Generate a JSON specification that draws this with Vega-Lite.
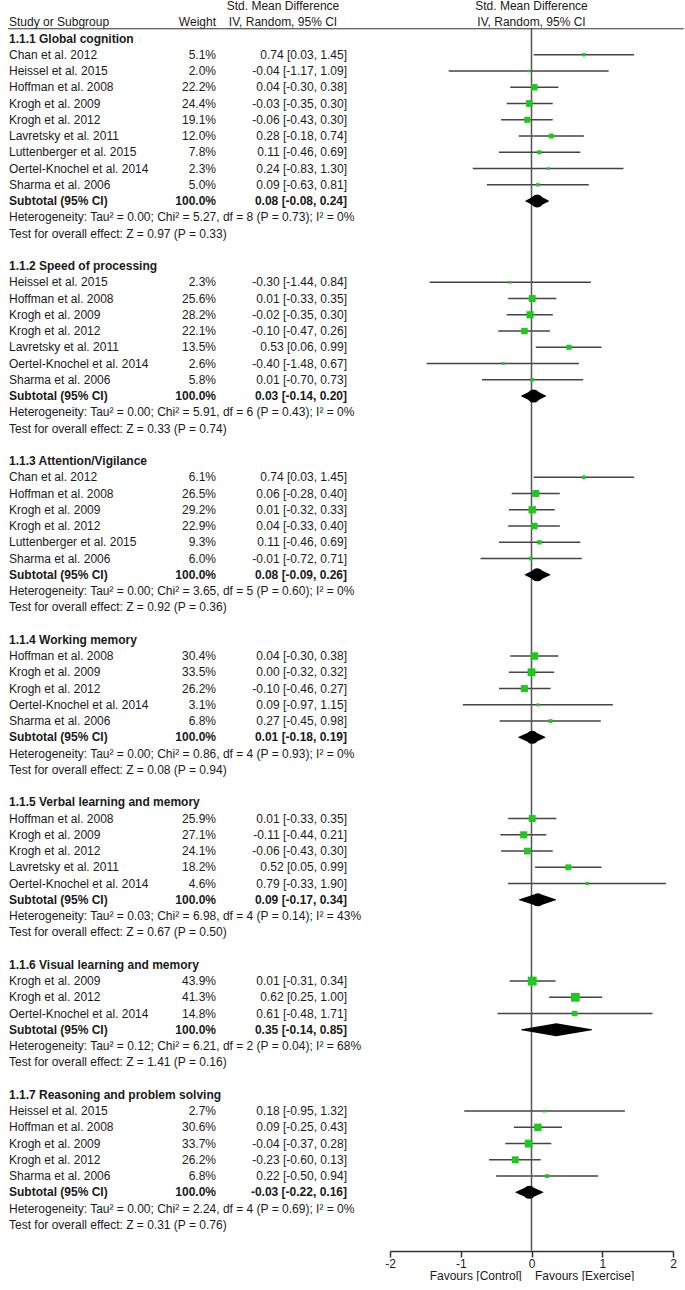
{
  "$schema": "https://vega.github.io/schema/vega-lite/v6.json",
  "padding": 0,
  "bounds": "flush",
  "spacing": 0,
  "config": {
    "view": {"stroke": null},
    "font": "Liberation Sans",
    "text": {"font": "Liberation Sans", "fontSize": 12, "color": "#1a1a1a", "baseline": "middle"}
  },
  "datasets": {
    "header": [
      {"row": -2, "col": "smd", "text": "Std. Mean Difference"},
      {"row": -1, "col": "study", "text": "Study or Subgroup"},
      {"row": -1, "col": "weight", "text": "Weight"},
      {"row": -1, "col": "smd", "text": "IV, Random, 95% CI"}
    ],
    "rows": [
      {"row": 0, "kind": "section", "label": "1.1.1 Global cognition"},
      {"row": 1, "kind": "study", "label": "Chan et al. 2012", "w": 0.051, "est": 0.74, "lo": 0.03, "hi": 1.45, "ci": "0.74 [0.03, 1.45]"},
      {"row": 2, "kind": "study", "label": "Heissel et al. 2015", "w": 0.020, "est": -0.04, "lo": -1.17, "hi": 1.09, "ci": "-0.04 [-1.17, 1.09]"},
      {"row": 3, "kind": "study", "label": "Hoffman et al. 2008", "w": 0.222, "est": 0.04, "lo": -0.30, "hi": 0.38, "ci": "0.04 [-0.30, 0.38]"},
      {"row": 4, "kind": "study", "label": "Krogh et al. 2009", "w": 0.244, "est": -0.03, "lo": -0.35, "hi": 0.30, "ci": "-0.03 [-0.35, 0.30]"},
      {"row": 5, "kind": "study", "label": "Krogh et al. 2012", "w": 0.191, "est": -0.06, "lo": -0.43, "hi": 0.30, "ci": "-0.06 [-0.43, 0.30]"},
      {"row": 6, "kind": "study", "label": "Lavretsky et al. 2011", "w": 0.120, "est": 0.28, "lo": -0.18, "hi": 0.74, "ci": "0.28 [-0.18, 0.74]"},
      {"row": 7, "kind": "study", "label": "Luttenberger et al. 2015", "w": 0.078, "est": 0.11, "lo": -0.46, "hi": 0.69, "ci": "0.11 [-0.46, 0.69]"},
      {"row": 8, "kind": "study", "label": "Oertel-Knochel et al. 2014", "w": 0.023, "est": 0.24, "lo": -0.83, "hi": 1.30, "ci": "0.24 [-0.83, 1.30]"},
      {"row": 9, "kind": "study", "label": "Sharma et al. 2006", "w": 0.050, "est": 0.09, "lo": -0.63, "hi": 0.81, "ci": "0.09 [-0.63, 0.81]"},
      {"row": 10, "kind": "subtotal", "label": "Subtotal (95% CI)", "w": 1.0, "est": 0.08, "lo": -0.08, "hi": 0.24, "ci": "0.08 [-0.08, 0.24]"},
      {"row": 11, "kind": "note", "label": "Heterogeneity: Tau² = 0.00; Chi² = 5.27, df = 8 (P = 0.73); I² = 0%"},
      {"row": 12, "kind": "note", "label": "Test for overall effect: Z = 0.97 (P = 0.33)"},

      {"row": 14, "kind": "section", "label": "1.1.2 Speed of processing"},
      {"row": 15, "kind": "study", "label": "Heissel et al. 2015", "w": 0.023, "est": -0.30, "lo": -1.44, "hi": 0.84, "ci": "-0.30 [-1.44, 0.84]"},
      {"row": 16, "kind": "study", "label": "Hoffman et al. 2008", "w": 0.256, "est": 0.01, "lo": -0.33, "hi": 0.35, "ci": "0.01 [-0.33, 0.35]"},
      {"row": 17, "kind": "study", "label": "Krogh et al. 2009", "w": 0.282, "est": -0.02, "lo": -0.35, "hi": 0.30, "ci": "-0.02 [-0.35, 0.30]"},
      {"row": 18, "kind": "study", "label": "Krogh et al. 2012", "w": 0.221, "est": -0.10, "lo": -0.47, "hi": 0.26, "ci": "-0.10 [-0.47, 0.26]"},
      {"row": 19, "kind": "study", "label": "Lavretsky et al. 2011", "w": 0.135, "est": 0.53, "lo": 0.06, "hi": 0.99, "ci": "0.53 [0.06, 0.99]"},
      {"row": 20, "kind": "study", "label": "Oertel-Knochel et al. 2014", "w": 0.026, "est": -0.40, "lo": -1.48, "hi": 0.67, "ci": "-0.40 [-1.48, 0.67]"},
      {"row": 21, "kind": "study", "label": "Sharma et al. 2006", "w": 0.058, "est": 0.01, "lo": -0.70, "hi": 0.73, "ci": "0.01 [-0.70, 0.73]"},
      {"row": 22, "kind": "subtotal", "label": "Subtotal (95% CI)", "w": 1.0, "est": 0.03, "lo": -0.14, "hi": 0.20, "ci": "0.03 [-0.14, 0.20]"},
      {"row": 23, "kind": "note", "label": "Heterogeneity: Tau² = 0.00; Chi² = 5.91, df = 6 (P = 0.43); I² = 0%"},
      {"row": 24, "kind": "note", "label": "Test for overall effect: Z = 0.33 (P = 0.74)"},

      {"row": 26, "kind": "section", "label": "1.1.3 Attention/Vigilance"},
      {"row": 27, "kind": "study", "label": "Chan et al. 2012", "w": 0.061, "est": 0.74, "lo": 0.03, "hi": 1.45, "ci": "0.74 [0.03, 1.45]"},
      {"row": 28, "kind": "study", "label": "Hoffman et al. 2008", "w": 0.265, "est": 0.06, "lo": -0.28, "hi": 0.40, "ci": "0.06 [-0.28, 0.40]"},
      {"row": 29, "kind": "study", "label": "Krogh et al. 2009", "w": 0.292, "est": 0.01, "lo": -0.32, "hi": 0.33, "ci": "0.01 [-0.32, 0.33]"},
      {"row": 30, "kind": "study", "label": "Krogh et al. 2012", "w": 0.229, "est": 0.04, "lo": -0.33, "hi": 0.40, "ci": "0.04 [-0.33, 0.40]"},
      {"row": 31, "kind": "study", "label": "Luttenberger et al. 2015", "w": 0.093, "est": 0.11, "lo": -0.46, "hi": 0.69, "ci": "0.11 [-0.46, 0.69]"},
      {"row": 32, "kind": "study", "label": "Sharma et al. 2006", "w": 0.060, "est": -0.01, "lo": -0.72, "hi": 0.71, "ci": "-0.01 [-0.72, 0.71]"},
      {"row": 33, "kind": "subtotal", "label": "Subtotal (95% CI)", "w": 1.0, "est": 0.08, "lo": -0.09, "hi": 0.26, "ci": "0.08 [-0.09, 0.26]"},
      {"row": 34, "kind": "note", "label": "Heterogeneity: Tau² = 0.00; Chi² = 3.65, df = 5 (P = 0.60); I² = 0%"},
      {"row": 35, "kind": "note", "label": "Test for overall effect: Z = 0.92 (P = 0.36)"},

      {"row": 37, "kind": "section", "label": "1.1.4 Working memory"},
      {"row": 38, "kind": "study", "label": "Hoffman et al. 2008", "w": 0.304, "est": 0.04, "lo": -0.30, "hi": 0.38, "ci": "0.04 [-0.30, 0.38]"},
      {"row": 39, "kind": "study", "label": "Krogh et al. 2009", "w": 0.335, "est": 0.00, "lo": -0.32, "hi": 0.32, "ci": "0.00 [-0.32, 0.32]"},
      {"row": 40, "kind": "study", "label": "Krogh et al. 2012", "w": 0.262, "est": -0.10, "lo": -0.46, "hi": 0.27, "ci": "-0.10 [-0.46, 0.27]"},
      {"row": 41, "kind": "study", "label": "Oertel-Knochel et al. 2014", "w": 0.031, "est": 0.09, "lo": -0.97, "hi": 1.15, "ci": "0.09 [-0.97, 1.15]"},
      {"row": 42, "kind": "study", "label": "Sharma et al. 2006", "w": 0.068, "est": 0.27, "lo": -0.45, "hi": 0.98, "ci": "0.27 [-0.45, 0.98]"},
      {"row": 43, "kind": "subtotal", "label": "Subtotal (95% CI)", "w": 1.0, "est": 0.01, "lo": -0.18, "hi": 0.19, "ci": "0.01 [-0.18, 0.19]"},
      {"row": 44, "kind": "note", "label": "Heterogeneity: Tau² = 0.00; Chi² = 0.86, df = 4 (P = 0.93); I² = 0%"},
      {"row": 45, "kind": "note", "label": "Test for overall effect: Z = 0.08 (P = 0.94)"},

      {"row": 47, "kind": "section", "label": "1.1.5 Verbal learning and memory"},
      {"row": 48, "kind": "study", "label": "Hoffman et al. 2008", "w": 0.259, "est": 0.01, "lo": -0.33, "hi": 0.35, "ci": "0.01 [-0.33, 0.35]"},
      {"row": 49, "kind": "study", "label": "Krogh et al. 2009", "w": 0.271, "est": -0.11, "lo": -0.44, "hi": 0.21, "ci": "-0.11 [-0.44, 0.21]"},
      {"row": 50, "kind": "study", "label": "Krogh et al. 2012", "w": 0.241, "est": -0.06, "lo": -0.43, "hi": 0.30, "ci": "-0.06 [-0.43, 0.30]"},
      {"row": 51, "kind": "study", "label": "Lavretsky et al. 2011", "w": 0.182, "est": 0.52, "lo": 0.05, "hi": 0.99, "ci": "0.52 [0.05, 0.99]"},
      {"row": 52, "kind": "study", "label": "Oertel-Knochel et al. 2014", "w": 0.046, "est": 0.79, "lo": -0.33, "hi": 1.90, "ci": "0.79 [-0.33, 1.90]"},
      {"row": 53, "kind": "subtotal", "label": "Subtotal (95% CI)", "w": 1.0, "est": 0.09, "lo": -0.17, "hi": 0.34, "ci": "0.09 [-0.17, 0.34]"},
      {"row": 54, "kind": "note", "label": "Heterogeneity: Tau² = 0.03; Chi² = 6.98, df = 4 (P = 0.14); I² = 43%"},
      {"row": 55, "kind": "note", "label": "Test for overall effect: Z = 0.67 (P = 0.50)"},

      {"row": 57, "kind": "section", "label": "1.1.6 Visual learning and memory"},
      {"row": 58, "kind": "study", "label": "Krogh et al. 2009", "w": 0.439, "est": 0.01, "lo": -0.31, "hi": 0.34, "ci": "0.01 [-0.31, 0.34]"},
      {"row": 59, "kind": "study", "label": "Krogh et al. 2012", "w": 0.413, "est": 0.62, "lo": 0.25, "hi": 1.00, "ci": "0.62 [0.25, 1.00]"},
      {"row": 60, "kind": "study", "label": "Oertel-Knochel et al. 2014", "w": 0.148, "est": 0.61, "lo": -0.48, "hi": 1.71, "ci": "0.61 [-0.48, 1.71]"},
      {"row": 61, "kind": "subtotal", "label": "Subtotal (95% CI)", "w": 1.0, "est": 0.35, "lo": -0.14, "hi": 0.85, "ci": "0.35 [-0.14, 0.85]"},
      {"row": 62, "kind": "note", "label": "Heterogeneity: Tau² = 0.12; Chi² = 6.21, df = 2 (P = 0.04); I² = 68%"},
      {"row": 63, "kind": "note", "label": "Test for overall effect: Z = 1.41 (P = 0.16)"},

      {"row": 65, "kind": "section", "label": "1.1.7 Reasoning and problem solving"},
      {"row": 66, "kind": "study", "label": "Heissel et al. 2015", "w": 0.027, "est": 0.18, "lo": -0.95, "hi": 1.32, "ci": "0.18 [-0.95, 1.32]"},
      {"row": 67, "kind": "study", "label": "Hoffman et al. 2008", "w": 0.306, "est": 0.09, "lo": -0.25, "hi": 0.43, "ci": "0.09 [-0.25, 0.43]"},
      {"row": 68, "kind": "study", "label": "Krogh et al. 2009", "w": 0.337, "est": -0.04, "lo": -0.37, "hi": 0.28, "ci": "-0.04 [-0.37, 0.28]"},
      {"row": 69, "kind": "study", "label": "Krogh et al. 2012", "w": 0.262, "est": -0.23, "lo": -0.60, "hi": 0.13, "ci": "-0.23 [-0.60, 0.13]"},
      {"row": 70, "kind": "study", "label": "Sharma et al. 2006", "w": 0.068, "est": 0.22, "lo": -0.50, "hi": 0.94, "ci": "0.22 [-0.50, 0.94]"},
      {"row": 71, "kind": "subtotal", "label": "Subtotal (95% CI)", "w": 1.0, "est": -0.03, "lo": -0.22, "hi": 0.16, "ci": "-0.03 [-0.22, 0.16]"},
      {"row": 72, "kind": "note", "label": "Heterogeneity: Tau² = 0.00; Chi² = 2.24, df = 4 (P = 0.69); I² = 0%"},
      {"row": 73, "kind": "note", "label": "Test for overall effect: Z = 0.31 (P = 0.76)"}
    ]
  },
  "hconcat": [
    {
      "width": 390,
      "height": 1251,
      "data": {"name": "rows"},
      "encoding": {
        "y": {"field": "row", "type": "quantitative", "scale": {"domain": [-2.37, 74.61], "reverse": true, "nice": false, "zero": false}, "axis": null}
      },
      "layer": [
        {
          "transform": [{"filter": "datum.kind === 'study' || datum.kind === 'note'"}],
          "mark": {"type": "text", "align": "left"},
          "encoding": {"text": {"field": "label"}, "x": {"value": 9}}
        },
        {
          "transform": [{"filter": "datum.kind === 'section' || datum.kind === 'subtotal'"}],
          "mark": {"type": "text", "align": "left", "fontWeight": "bold"},
          "encoding": {"text": {"field": "label"}, "x": {"value": 9}}
        },
        {
          "transform": [{"filter": "datum.kind === 'study'"}],
          "mark": {"type": "text", "align": "right"},
          "encoding": {"text": {"field": "w", "type": "quantitative", "format": ".1%"}, "x": {"value": 216}}
        },
        {
          "transform": [{"filter": "datum.kind === 'subtotal'"}],
          "mark": {"type": "text", "align": "right", "fontWeight": "bold"},
          "encoding": {"text": {"field": "w", "type": "quantitative", "format": ".1%"}, "x": {"value": 216}}
        },
        {
          "transform": [{"filter": "datum.kind === 'study'"}],
          "mark": {"type": "text", "align": "right"},
          "encoding": {"text": {"field": "ci"}, "x": {"value": 347}}
        },
        {
          "transform": [{"filter": "datum.kind === 'subtotal'"}],
          "mark": {"type": "text", "align": "right", "fontWeight": "bold"},
          "encoding": {"text": {"field": "ci"}, "x": {"value": 347}}
        },
        {
          "data": {"name": "header"},
          "transform": [{"filter": "datum.col === 'smd'"}],
          "mark": {"type": "text", "align": "center"},
          "encoding": {"text": {"field": "text"}, "x": {"value": 283}}
        },
        {
          "data": {"name": "header"},
          "transform": [{"filter": "datum.col === 'study'"}],
          "mark": {"type": "text", "align": "left"},
          "encoding": {"text": {"field": "text"}, "x": {"value": 9}}
        },
        {
          "data": {"name": "header"},
          "transform": [{"filter": "datum.col === 'weight'"}],
          "mark": {"type": "text", "align": "right"},
          "encoding": {"text": {"field": "text"}, "x": {"value": 216}}
        },
        {
          "data": {"name": "header"},
          "transform": [{"filter": "datum.col === 'study'"}],
          "mark": {"type": "rule", "color": "#333", "strokeWidth": 1.2, "yOffset": 6.5},
          "encoding": {"x": {"value": 8}, "x2": {"value": 390}}
        }
      ]
    },
    {
      "width": 283,
      "height": 1251,
      "data": {"name": "rows"},
      "encoding": {
        "y": {"field": "row", "type": "quantitative", "scale": {"domain": [-2.37, 74.61], "reverse": true, "nice": false, "zero": false}, "axis": null}
      },
      "layer": [
        {
          "transform": [{"filter": "datum.kind === 'study'"}],
          "mark": {"type": "rule", "color": "#444", "strokeWidth": 1.5},
          "encoding": {
            "x": {
              "field": "lo", "type": "quantitative",
              "scale": {"domain": [-2, 2], "nice": false, "zero": false},
              "axis": {
                "values": [-2, -1, 0, 1, 2],
                "labelExpr": "'' + datum.value",
                "title": "Favours [Control]\u00a0\u00a0\u00a0 Favours [Exercise]",
                "grid": false,
                "domainColor": "#333", "domainWidth": 1.5,
                "tickColor": "#333", "tickWidth": 1.5, "tickSize": 6,
                "labelFont": "Liberation Sans", "labelFontSize": 12, "labelColor": "#1a1a1a", "labelPadding": 1, "labelFlush": false,
                "titleFont": "Liberation Sans", "titleFontSize": 12, "titleFontWeight": "normal", "titleColor": "#1a1a1a", "titlePadding": 1
              }
            },
            "x2": {"field": "hi"}
          }
        },
        {
          "transform": [{"aggregate": [{"op": "min", "field": "row", "as": "row"}, {"op": "max", "field": "row", "as": "last"}]}],
          "mark": {"type": "rule", "color": "#555", "strokeWidth": 1.5, "yOffset": -10, "y2Offset": 26},
          "encoding": {"x": {"datum": 0, "type": "quantitative"}, "y2": {"field": "last"}}
        },
        {
          "data": {"name": "header"},
          "transform": [{"filter": "datum.col === 'study'"}],
          "mark": {"type": "rule", "color": "#333", "strokeWidth": 1.2, "yOffset": 6.5},
          "encoding": {"x": {"datum": -2, "type": "quantitative"}, "x2": {"datum": 2.15}}
        },
        {
          "transform": [{"filter": "datum.kind === 'study'"}],
          "mark": {"type": "point", "shape": "square", "filled": true, "color": "#1ec81e", "opacity": 1},
          "encoding": {
            "x": {"field": "est", "type": "quantitative"},
            "size": {"field": "w", "type": "quantitative", "scale": {"domain": [0, 0.5], "range": [3, 90]}, "legend": null}
          }
        },
        {
          "transform": [{"filter": "datum.kind === 'subtotal'"}, {"fold": ["lo", "est", "hi"]}],
          "mark": {"type": "trail", "color": "black"},
          "encoding": {
            "x": {"field": "value", "type": "quantitative"},
            "detail": {"field": "row"},
            "size": {"condition": {"test": "datum.key === 'est'", "value": 13}, "value": 0}
          }
        },
        {
          "data": {"name": "header"},
          "transform": [{"filter": "datum.col === 'smd'"}],
          "mark": {"type": "text", "align": "center"},
          "encoding": {"text": {"field": "text"}, "x": {"datum": 0, "type": "quantitative"}}
        }
      ]
    }
  ]
}
